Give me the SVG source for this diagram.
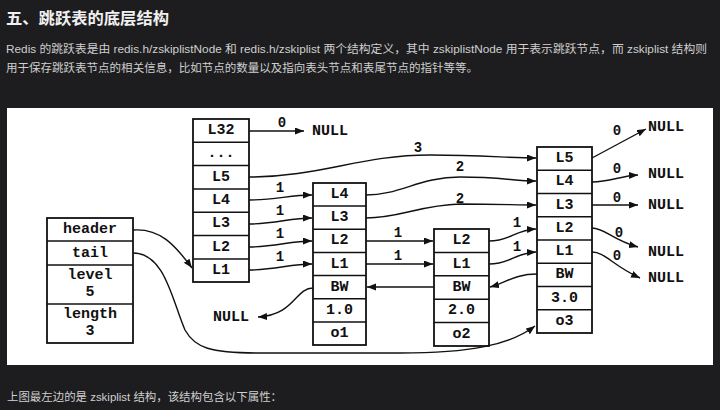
<svg xmlns="http://www.w3.org/2000/svg" width="720" height="410" viewBox="0 0 720 410">
<defs>
<style>
.bg{fill:#1d1d1f}
.title{font-family:"Liberation Sans","Noto Sans CJK SC",sans-serif;font-size:16px;font-weight:bold;fill:#f0f0f0}
.para{font-family:"Liberation Sans","Noto Sans CJK SC",sans-serif;font-size:11.5px;fill:#cfcfcf}
.box{fill:#fff;stroke:#111;stroke-width:1.8}
.sep{stroke:#111;stroke-width:1.5}
.t{font-family:"Liberation Mono","DejaVu Sans Mono",monospace;font-size:15px;font-weight:bold;fill:#111;text-anchor:middle;dominant-baseline:central}
.lbl{font-family:"Liberation Mono","DejaVu Sans Mono",monospace;font-size:14px;font-weight:bold;fill:#111;text-anchor:middle;dominant-baseline:central}
.nul{font-family:"Liberation Mono","DejaVu Sans Mono",monospace;font-size:15px;font-weight:bold;fill:#111;dominant-baseline:central}
.c{fill:none;stroke:#111;stroke-width:1.4;marker-end:url(#ah)}
</style>
<marker id="ah" markerUnits="userSpaceOnUse" markerWidth="10" markerHeight="8" refX="9" refY="3.5" orient="auto">
<path d="M0,0 L9,3.5 L0,7 z" fill="#111"/>
</marker>
</defs>
<rect class="bg" x="0" y="0" width="720" height="410"/>
<text class="title" x="6" y="24" textLength="163" lengthAdjust="spacingAndGlyphs">五、跳跃表的底层结构</text>
<text class="para" x="6" y="53" textLength="701" lengthAdjust="spacingAndGlyphs">Redis 的跳跃表是由 redis.h/zskiplistNode 和 redis.h/zskiplist 两个结构定义，其中 zskiplistNode 用于表示跳跃节点，而 zskiplist 结构则</text>
<text class="para" x="6" y="72" textLength="472" lengthAdjust="spacingAndGlyphs">用于保存跳跃表节点的相关信息，比如节点的数量以及指向表头节点和表尾节点的指针等等。</text>
<rect x="7" y="108" width="706" height="257" fill="#fff"/>
<text class="para" x="7" y="401" textLength="275" lengthAdjust="spacingAndGlyphs">上图最左边的是 zskiplist 结构，该结构包含以下属性：</text>

<g id="zskiplist">
<rect class="box" x="47" y="218" width="86" height="125"/>
<line class="sep" x1="47" y1="241" x2="133" y2="241"/>
<line class="sep" x1="47" y1="265" x2="133" y2="265"/>
<line class="sep" x1="47" y1="304" x2="133" y2="304"/>
<text class="t" x="90" y="229.5">header</text>
<text class="t" x="90" y="253">tail</text>
<text class="t" x="90" y="275">level</text>
<text class="t" x="90" y="292">5</text>
<text class="t" x="90" y="314">length</text>
<text class="t" x="90" y="331">3</text>
</g>

<g id="header-node">
<rect class="box" x="193" y="119" width="56" height="163"/>
<line class="sep" x1="193" y1="142.3" x2="249" y2="142.3"/>
<line class="sep" x1="193" y1="165.6" x2="249" y2="165.6"/>
<line class="sep" x1="193" y1="189" x2="249" y2="189"/>
<line class="sep" x1="193" y1="212.3" x2="249" y2="212.3"/>
<line class="sep" x1="193" y1="235.6" x2="249" y2="235.6"/>
<line class="sep" x1="193" y1="259" x2="249" y2="259"/>
<text class="t" x="221" y="130.6">L32</text>
<text class="t" x="221" y="153.9">...</text>
<text class="t" x="221" y="177.3">L5</text>
<text class="t" x="221" y="200.6">L4</text>
<text class="t" x="221" y="223.9">L3</text>
<text class="t" x="221" y="247.2">L2</text>
<text class="t" x="221" y="270.6">L1</text>
</g>

<g id="node-o1">
<rect class="box" x="313" y="183" width="53" height="162"/>
<line class="sep" x1="313" y1="206.1" x2="366" y2="206.1"/>
<line class="sep" x1="313" y1="229.3" x2="366" y2="229.3"/>
<line class="sep" x1="313" y1="252.4" x2="366" y2="252.4"/>
<line class="sep" x1="313" y1="275.6" x2="366" y2="275.6"/>
<line class="sep" x1="313" y1="298.7" x2="366" y2="298.7"/>
<line class="sep" x1="313" y1="321.9" x2="366" y2="321.9"/>
<text class="t" x="339.5" y="194.5">L4</text>
<text class="t" x="339.5" y="217.7">L3</text>
<text class="t" x="339.5" y="240.8">L2</text>
<text class="t" x="339.5" y="264">L1</text>
<text class="t" x="339.5" y="287.1">BW</text>
<text class="t" x="339.5" y="310.3">1.0</text>
<text class="t" x="339.5" y="333.4">o1</text>
</g>

<g id="node-o2">
<rect class="box" x="434" y="229" width="55" height="117"/>
<line class="sep" x1="434" y1="252.4" x2="489" y2="252.4"/>
<line class="sep" x1="434" y1="275.8" x2="489" y2="275.8"/>
<line class="sep" x1="434" y1="299.2" x2="489" y2="299.2"/>
<line class="sep" x1="434" y1="322.6" x2="489" y2="322.6"/>
<text class="t" x="461.5" y="240.7">L2</text>
<text class="t" x="461.5" y="264.1">L1</text>
<text class="t" x="461.5" y="287.5">BW</text>
<text class="t" x="461.5" y="310.9">2.0</text>
<text class="t" x="461.5" y="334.3">o2</text>
</g>

<g id="node-o3">
<rect class="box" x="537" y="147" width="55" height="186"/>
<line class="sep" x1="537" y1="170.25" x2="592" y2="170.25"/>
<line class="sep" x1="537" y1="193.5" x2="592" y2="193.5"/>
<line class="sep" x1="537" y1="216.75" x2="592" y2="216.75"/>
<line class="sep" x1="537" y1="240" x2="592" y2="240"/>
<line class="sep" x1="537" y1="263.25" x2="592" y2="263.25"/>
<line class="sep" x1="537" y1="286.5" x2="592" y2="286.5"/>
<line class="sep" x1="537" y1="309.75" x2="592" y2="309.75"/>
<text class="t" x="564.5" y="158.6">L5</text>
<text class="t" x="564.5" y="181.9">L4</text>
<text class="t" x="564.5" y="205.1">L3</text>
<text class="t" x="564.5" y="228.4">L2</text>
<text class="t" x="564.5" y="251.6">L1</text>
<text class="t" x="564.5" y="274.9">BW</text>
<text class="t" x="564.5" y="298.1">3.0</text>
<text class="t" x="564.5" y="321.4">o3</text>
</g>

<g id="null-labels">
<text class="nul" x="312" y="131">NULL</text>
<text class="nul" x="648" y="127">NULL</text>
<text class="nul" x="648" y="174">NULL</text>
<text class="nul" x="648" y="205">NULL</text>
<text class="nul" x="648" y="252">NULL</text>
<text class="nul" x="648" y="278">NULL</text>
<text class="nul" x="213" y="317">NULL</text>
</g>

<g id="connectors">
<path class="c" d="M249,131 L304,131"/>
<path class="c" d="M249,177 C320,177 360,155 430,155 C480,155 510,158 536,158"/>
<path class="c" d="M249,200 C275,200 290,195 312,195"/>
<path class="c" d="M249,224 C275,224 290,218 312,218"/>
<path class="c" d="M249,247 C275,247 290,241 312,241"/>
<path class="c" d="M249,270 C275,270 290,264 312,264"/>
<path class="c" d="M366,195 C400,195 420,177 460,177 C500,177 515,181 536,181"/>
<path class="c" d="M366,218 C400,218 420,205 460,204 C500,204 515,205 536,205"/>
<path class="c" d="M366,241 L433,241"/>
<path class="c" d="M366,264 L433,264"/>
<path class="c" d="M489,241 C510,241 515,230 536,229"/>
<path class="c" d="M489,264 C510,264 515,253 536,252"/>
<path class="c" d="M592,158 L646,129"/>
<path class="c" d="M592,182 C610,182 620,176 638,175"/>
<path class="c" d="M592,205 L638,205"/>
<path class="c" d="M592,228 C605,228 612,240 638,247"/>
<path class="c" d="M592,252 C605,252 612,265 640,278"/>
<path class="c" d="M537,274 C515,274 505,283 490,287"/>
<path class="c" d="M434,287 L367,287"/>
<path class="c" d="M313,288 C295,288 295,315 258,317"/>
<path class="c" d="M133,230 C160,228 175,245 192,268"/>
<path class="c" d="M133,253 C165,253 172,300 185,330 C195,348 210,353 260,353 L400,353 C470,353 510,345 535,326"/>
<text class="lbl" x="282" y="123">0</text>
<text class="lbl" x="418" y="148">3</text>
<text class="lbl" x="280" y="188">1</text>
<text class="lbl" x="280" y="211">1</text>
<text class="lbl" x="280" y="234">1</text>
<text class="lbl" x="280" y="257">1</text>
<text class="lbl" x="460" y="167">2</text>
<text class="lbl" x="460" y="199">2</text>
<text class="lbl" x="398" y="233">1</text>
<text class="lbl" x="398" y="256">1</text>
<text class="lbl" x="517" y="223">1</text>
<text class="lbl" x="517" y="247">1</text>
<text class="lbl" x="617" y="131">0</text>
<text class="lbl" x="617" y="169">0</text>
<text class="lbl" x="617" y="198">0</text>
<text class="lbl" x="619" y="233">0</text>
<text class="lbl" x="617" y="256">0</text>
</g>
</svg>
